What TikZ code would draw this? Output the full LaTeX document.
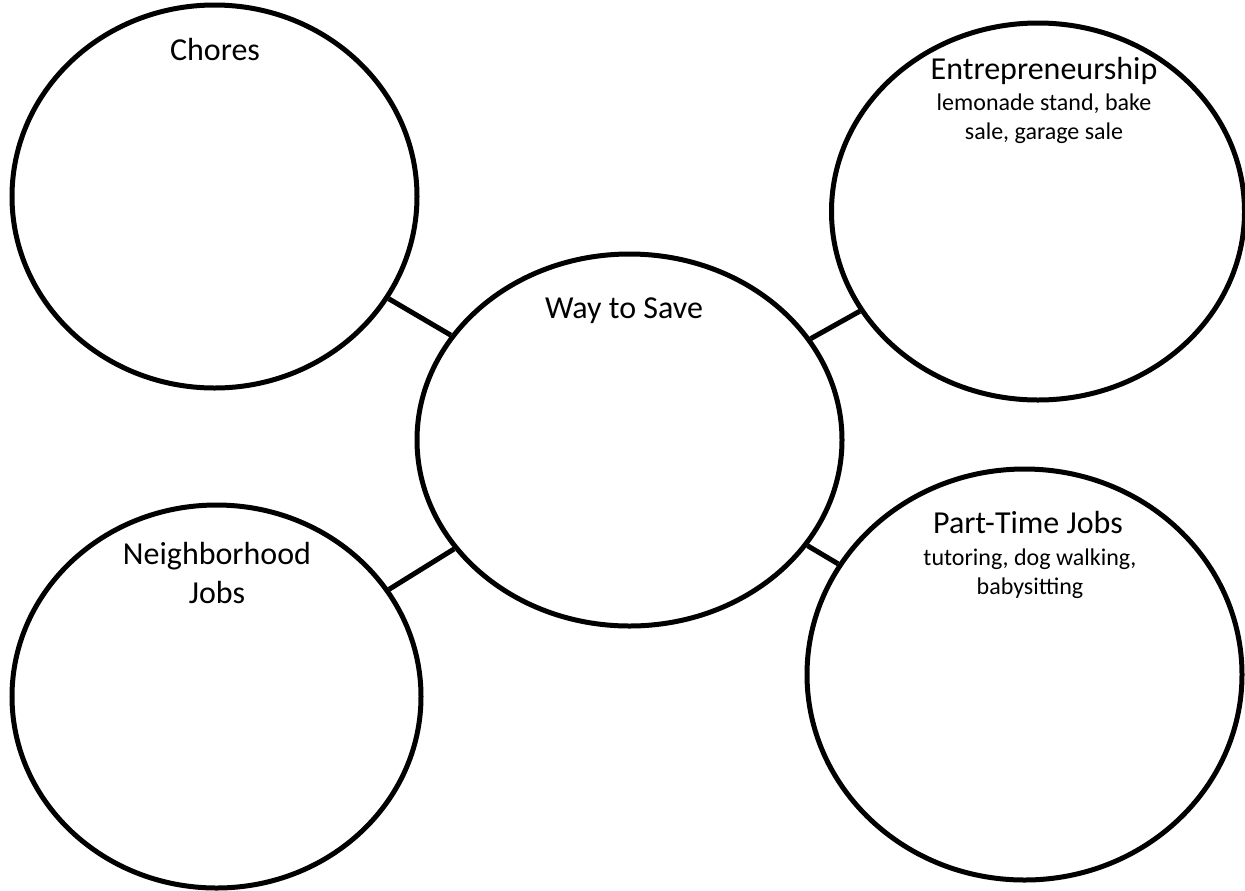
\documentclass[tikz,border=0pt]{standalone}
\usepackage{fontspec}
\setmainfont{Carlito}
\usepackage{tikz}
\usetikzlibrary{shapes,arrows}
\usetikzlibrary{positioning}

\begin{document}
\begin{tikzpicture}[x=0.75pt,y=-0.75pt,every node/.style={inner sep=0pt},every
  text node part/.style={align=center},
  bubble/.style 2 args={ellipse,draw,line width=3.75pt,minimum width=#1*0.75pt,
    minimum height=#2*0.75pt},
  head/.style={font=\fontsize{24}{29.25}\selectfont,anchor=base},
  hint/.style={font=\fontsize{18}{21.75}\selectfont,anchor=base},
  spoke/.style={line width=3.75pt}]

  \useasboundingbox (0,0) rectangle (1245,890);

  % centre
  \node[bubble={425}{372}] (save) at (629.5,440) {};
  \node[head] (saveT) at (624,318) {Way to Save};

  % outer bubbles (base = last line)
  \node[bubble={405}{383}] (chores) at (214.5,196.5) {};
  \node[head] (choresT) at (215,60) {Chores};

  \node[bubble={413}{377}] (entre) at (1038,211.5) {};
  \node[head] (entreT) at (1044,79) {Entrepreneurship};
  \node[hint] (entreH) at (1044,139) {lemonade stand, bake\\sale, garage sale};

  \node[bubble={409}{383}] (neigh) at (216.5,696.5) {};
  \node[head] (neighT) at (217,603) {Neighborhood\\Jobs};

  \node[bubble={435}{411}] (part) at (1024.5,674.5) {};
  \node[head] (partT) at (1028,533) {Part-Time Jobs};
  \node[hint] (partH) at (1030,594) {tutoring, dog walking,\\babysitting};

  %spokes
  \draw[spoke] (chores) -- (save);
  \draw[spoke] (entre) -- (save);
  \draw[spoke] (neigh) -- (save);
  \draw[spoke] (part) -- (save);

\end{tikzpicture}
\end{document}
